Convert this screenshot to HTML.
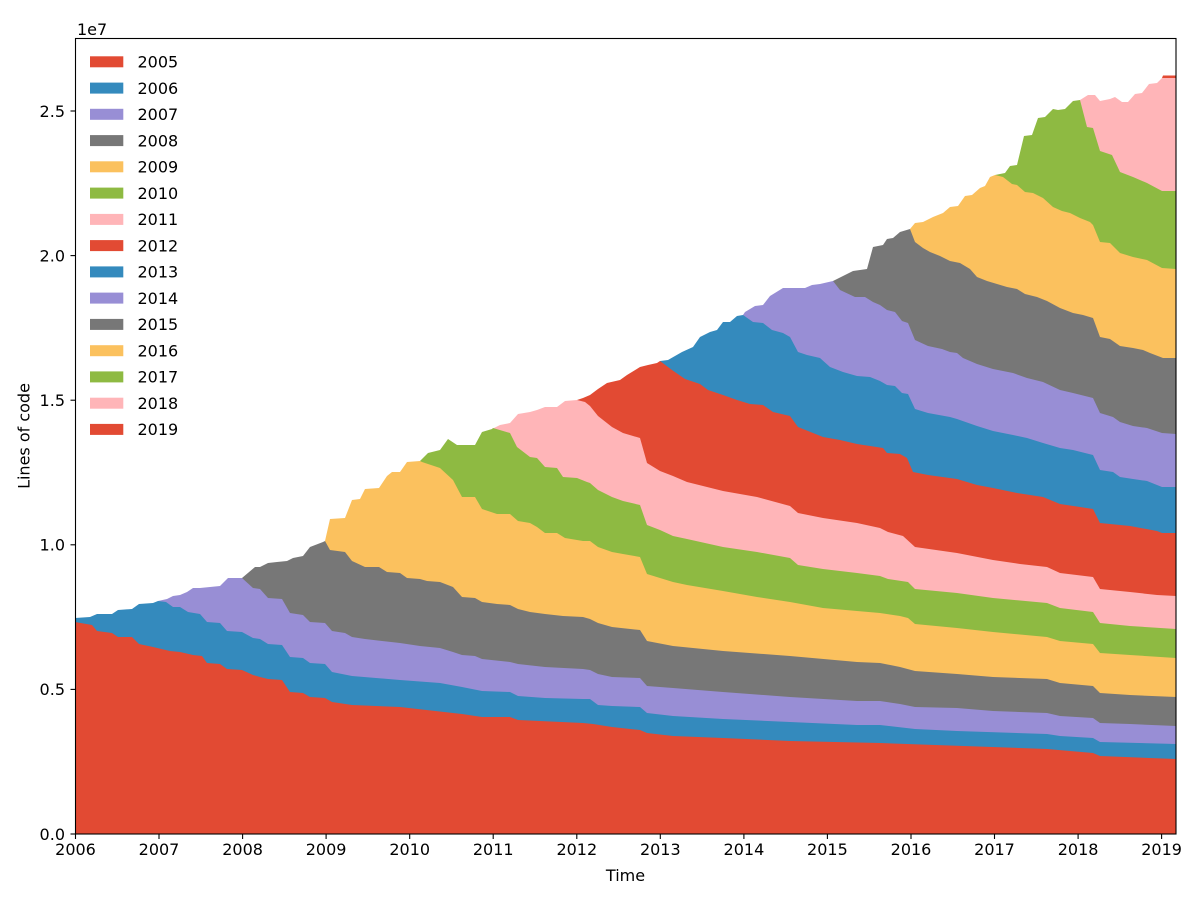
<!DOCTYPE html>
<html>
<head>
<meta charset="utf-8">
<style>
  html, body { margin: 0; padding: 0; background: #ffffff; }
  svg { display: block; }
  text { font-family: "DejaVu Sans", "Liberation Sans", sans-serif; font-size: 16px; fill: #000; }
</style>
</head>
<body>
<svg width="1200" height="900" viewBox="0 0 1200 900" xmlns="http://www.w3.org/2000/svg">
  <rect x="0" y="0" width="1200" height="900" fill="#ffffff"/>

  <!-- Layers painted from newest (top) to oldest (bottom) -->
  <!-- 2019 -->
  <polygon fill="#E24A33" points="1162,78 1163,75.5 1176,75.5 1176,834 1162,834"/>
  <!-- 2018 -->
  <polygon fill="#FFB5B8" points="1080,100 1088,95 1095,95 1100,101 1110,99 1115,97 1122,102 1128,102 1135,94 1142,93 1149,84 1157,83 1162,78 1176,78 1176,834 1080,834"/>
  <!-- 2017 -->
  <polygon fill="#8EBA42" points="995,175 1005,173 1010,166 1017,165 1024,136 1032,135 1038,118 1045,117 1053,109 1058,110 1065,109 1073,101 1080,100 1087,127 1093,128 1100,151 1112,155 1120,172 1133,177 1147,183 1162,191 1176,191 1176,834 995,834"/>
  <!-- 2016 -->
  <polygon fill="#FBC15E" points="910,229 915,223 923,222 933,217 943,213 950,207 958,206 965,196 972,195 980,188 985,186 990,177 995,175 1003,177 1012,184 1017,185 1025,192 1033,193 1043,198 1053,207 1062,211 1070,213 1080,218 1090,222 1093,225 1100,242 1110,243 1120,253 1133,257 1147,260 1162,268 1176,269 1176,834 910,834"/>
  <!-- 2015 -->
  <polygon fill="#777777" points="833,281 847,274 853,271 867,269 873,247 883,245 887,239 893,238 900,232 910,229 915,242 923,248 930,252 940,256 950,261 960,263 970,269 977,277 987,281 997,284 1007,287 1017,289 1025,294 1037,297 1047,301 1060,308 1073,313 1083,315 1093,318 1100,337 1110,339 1120,346 1133,348 1143,350 1150,353 1163,358 1176,358 1176,834 833,834"/>
  <!-- 2014 -->
  <polygon fill="#988ED5" points="743,315 745,312 755,306 763,305 770,296 783,288 793,288 805,288 812,285 820,284 833,281 840,290 855,297 865,297 873,302 880,305 887,310 895,312 902,321 908,323 915,340 928,346 942,349 950,352 957,353 963,358 977,364 993,369 1013,373 1027,378 1043,382 1060,390 1073,393 1093,398 1100,413 1113,417 1120,422 1133,426 1147,428 1162,433 1176,434 1176,834 743,834"/>
  <!-- 2013 -->
  <polygon fill="#348ABD" points="660,361 668,360 682,352 693,347 700,337 710,332 717,330 723,322 730,322 737,316 743,315 753,322 763,323 772,330 783,333 790,337 798,352 807,355 820,358 830,367 843,372 857,376 870,377 880,381 887,385 895,386 902,393 908,394 915,409 928,413 950,417 957,419 977,426 993,431 1013,435 1027,438 1043,443 1060,448 1073,450 1093,455 1100,470 1113,472 1120,477 1133,479 1147,481 1162,487 1176,487 1176,834 660,834"/>
  <!-- 2012 -->
  <polygon fill="#E24A33" points="577,400 583,398 590,395 598,389 607,383 620,380 627,375 640,367 648,365 657,363 660,361 672,370 685,379 700,384 708,390 723,395 737,400 750,404 763,405 773,412 790,416 798,427 823,437 840,440 857,444 883,448 887,453 900,454 907,458 913,472 928,475 957,479 977,485 993,488 1017,493 1043,497 1060,504 1080,507 1093,509 1100,523 1130,526 1157,531 1162,533 1176,533 1176,834 577,834"/>
  <!-- 2011 -->
  <polygon fill="#FFB5B8" points="492,429 500,425 510,423 518,414 530,412 537,410 545,407 557,407 565,401 577,400 585,402 590,406 598,416 612,427 623,433 640,438 647,463 660,471 673,476 687,482 707,487 723,491 757,497 790,506 798,513 823,518 857,523 880,528 888,532 903,536 915,547 957,553 993,560 1020,564 1047,567 1060,573 1093,577 1100,589 1130,592 1157,595 1176,596 1176,834 492,834"/>
  <!-- 2010 -->
  <polygon fill="#8EBA42" points="420,461 428,453 440,450 448,439 457,445 475,445 482,432 492,429 493,428 510,433 517,447 530,457 537,458 545,467 557,468 563,477 577,478 587,482 590,483 598,490 612,497 623,501 640,505 647,525 660,530 673,536 687,539 723,547 757,552 790,558 798,565 823,569 857,573 880,576 888,579 908,582 915,589 957,593 993,598 1047,603 1060,608 1093,612 1100,623 1130,626 1176,629 1176,834 420,834"/>
  <!-- 2009 -->
  <polygon fill="#FBC15E" points="325,541 330,519 345,518 352,500 360,499 365,489 379,488 387,476 392,472 400,472 407,462 420,461 422,462 440,468 453,480 462,497 475,497 482,509 497,514 510,514 518,521 530,523 537,527 545,533 557,533 565,538 583,541 590,541 598,547 612,552 623,554 640,557 647,574 673,582 687,585 723,591 757,597 790,602 823,608 857,611 880,613 900,616 908,618 915,624 957,628 993,632 1047,637 1060,641 1093,644 1100,653 1130,655 1176,658 1176,834 325,834"/>
  <!-- 2008 -->
  <polygon fill="#777777" points="242,578 255,567 260,567 268,563 277,562 287,561 293,558 303,556 310,547 323,542 325,541 330,550 345,552 352,561 365,567 379,567 387,572 400,573 407,578 420,579 427,581 440,582 453,587 462,597 475,598 482,602 497,604 510,605 518,609 530,612 545,614 563,616 583,617 590,619 598,623 612,627 640,630 647,641 673,646 723,651 790,656 857,662 880,663 900,667 915,671 957,674 993,677 1047,679 1060,683 1093,686 1100,693 1130,695 1176,697 1176,834 242,834"/>
  <!-- 2007 -->
  <polygon fill="#988ED5" points="158,601 167,599 173,596 180,595 187,592 193,588 200,588 220,586 228,578 242,578 253,588 260,589 268,598 282,599 290,613 303,615 310,622 325,623 332,631 345,633 352,637 365,639 400,643 420,646 440,648 453,652 462,655 475,656 482,659 510,662 518,664 545,667 583,669 590,670 598,674 612,677 640,678 647,686 673,688 723,692 790,697 857,701 880,701 900,704 915,707 957,708 993,711 1047,713 1060,716 1093,718 1100,723 1130,724 1176,726 1176,834 158,834"/>
  <!-- 2006 -->
  <polygon fill="#348ABD" points="75,618 90,617 97,614 112,614 118,610 132,609 139,604 153,603 158,601 166,602 173,607 180,607 188,612 200,614 207,622 220,623 227,631 242,632 253,638 260,639 268,644 282,645 290,657 303,658 310,663 325,664 332,672 352,676 400,680 440,683 462,687 482,691 510,692 518,696 545,698 583,699 590,699 598,705 612,706 640,707 647,713 673,716 723,719 790,722 857,725 880,725 915,729 957,731 1047,734 1060,736 1093,738 1100,742 1176,744 1176,834 75,834"/>
  <!-- 2005 -->
  <polygon fill="#E24A33" points="75,622 92,625 97,631 112,633 118,637 132,637 139,644 153,647 170,651 180,652 193,655 202,656 207,663 220,664 227,669 242,670 253,675 260,677 268,679 282,680 290,692 303,693 310,697 325,698 332,702 352,705 400,707 453,713 462,714 482,717 510,717 518,720 583,723 593,724 612,727 640,730 647,733 673,736 723,738 790,741 880,743 1047,749 1093,753 1100,756 1176,759 1176,834 75,834"/>

  <!-- Axes frame -->
  <rect x="75.5" y="38.5" width="1100.5" height="795.5" fill="none" stroke="#000" stroke-width="1.1"/>

  <!-- Y ticks -->
  <g stroke="#000" stroke-width="1.1">
    <line x1="70.5" y1="834" x2="75.5" y2="834"/>
    <line x1="70.5" y1="689.4" x2="75.5" y2="689.4"/>
    <line x1="70.5" y1="544.8" x2="75.5" y2="544.8"/>
    <line x1="70.5" y1="400.2" x2="75.5" y2="400.2"/>
    <line x1="70.5" y1="255.6" x2="75.5" y2="255.6"/>
    <line x1="70.5" y1="111" x2="75.5" y2="111"/>
  </g>
  <g text-anchor="end">
    <text x="65" y="839.8">0.0</text>
    <text x="65" y="695.2">0.5</text>
    <text x="65" y="550.6">1.0</text>
    <text x="65" y="406">1.5</text>
    <text x="65" y="261.4">2.0</text>
    <text x="65" y="116.8">2.5</text>
  </g>
  <text x="77" y="35">1e7</text>

  <!-- X ticks -->
  <g stroke="#000" stroke-width="1.1">
    <line x1="75.5" y1="834" x2="75.5" y2="839"/>
    <line x1="159" y1="834" x2="159" y2="839"/>
    <line x1="242.6" y1="834" x2="242.6" y2="839"/>
    <line x1="326.1" y1="834" x2="326.1" y2="839"/>
    <line x1="409.7" y1="834" x2="409.7" y2="839"/>
    <line x1="493.2" y1="834" x2="493.2" y2="839"/>
    <line x1="576.8" y1="834" x2="576.8" y2="839"/>
    <line x1="660.3" y1="834" x2="660.3" y2="839"/>
    <line x1="743.9" y1="834" x2="743.9" y2="839"/>
    <line x1="827.4" y1="834" x2="827.4" y2="839"/>
    <line x1="911" y1="834" x2="911" y2="839"/>
    <line x1="994.5" y1="834" x2="994.5" y2="839"/>
    <line x1="1078.1" y1="834" x2="1078.1" y2="839"/>
    <line x1="1161.6" y1="834" x2="1161.6" y2="839"/>
  </g>
  <g text-anchor="middle">
    <text x="75.5" y="855">2006</text>
    <text x="159" y="855">2007</text>
    <text x="242.6" y="855">2008</text>
    <text x="326.1" y="855">2009</text>
    <text x="409.7" y="855">2010</text>
    <text x="493.2" y="855">2011</text>
    <text x="576.8" y="855">2012</text>
    <text x="660.3" y="855">2013</text>
    <text x="743.9" y="855">2014</text>
    <text x="827.4" y="855">2015</text>
    <text x="911" y="855">2016</text>
    <text x="994.5" y="855">2017</text>
    <text x="1078.1" y="855">2018</text>
    <text x="1161.6" y="855">2019</text>
  </g>

  <!-- Axis labels -->
  <text x="625.5" y="881" text-anchor="middle">Time</text>
  <text transform="translate(29.5,436) rotate(-90)" text-anchor="middle">Lines of code</text>

  <!-- Legend -->
  <g>
    <rect x="90" y="56.3" width="33.3" height="11" fill="#E24A33"/>
    <rect x="90" y="82.6" width="33.3" height="11" fill="#348ABD"/>
    <rect x="90" y="108.8" width="33.3" height="11" fill="#988ED5"/>
    <rect x="90" y="135.1" width="33.3" height="11" fill="#777777"/>
    <rect x="90" y="161.3" width="33.3" height="11" fill="#FBC15E"/>
    <rect x="90" y="187.6" width="33.3" height="11" fill="#8EBA42"/>
    <rect x="90" y="213.9" width="33.3" height="11" fill="#FFB5B8"/>
    <rect x="90" y="240.1" width="33.3" height="11" fill="#E24A33"/>
    <rect x="90" y="266.4" width="33.3" height="11" fill="#348ABD"/>
    <rect x="90" y="292.6" width="33.3" height="11" fill="#988ED5"/>
    <rect x="90" y="318.9" width="33.3" height="11" fill="#777777"/>
    <rect x="90" y="345.2" width="33.3" height="11" fill="#FBC15E"/>
    <rect x="90" y="371.4" width="33.3" height="11" fill="#8EBA42"/>
    <rect x="90" y="397.7" width="33.3" height="11" fill="#FFB5B8"/>
    <rect x="90" y="423.9" width="33.3" height="11" fill="#E24A33"/>
  </g>
  <g>
    <text x="137.5" y="67.5">2005</text>
    <text x="137.5" y="93.8">2006</text>
    <text x="137.5" y="120">2007</text>
    <text x="137.5" y="146.3">2008</text>
    <text x="137.5" y="172.5">2009</text>
    <text x="137.5" y="198.8">2010</text>
    <text x="137.5" y="225.1">2011</text>
    <text x="137.5" y="251.3">2012</text>
    <text x="137.5" y="277.6">2013</text>
    <text x="137.5" y="303.8">2014</text>
    <text x="137.5" y="330.1">2015</text>
    <text x="137.5" y="356.4">2016</text>
    <text x="137.5" y="382.6">2017</text>
    <text x="137.5" y="408.9">2018</text>
    <text x="137.5" y="435.1">2019</text>
  </g>
</svg>
</body>
</html>
